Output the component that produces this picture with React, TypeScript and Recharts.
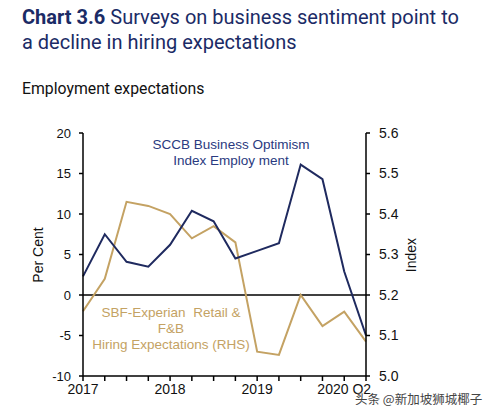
import React from 'react';
import { LineChart, Line, XAxis, YAxis, ReferenceLine } from 'recharts';

const quarters = ['2017Q1','2017Q2','2017Q3','2017Q4','2018Q1','2018Q2','2018Q3','2018Q4','2019Q1','2019Q2','2019Q3','2019Q4','2020Q1','2020Q2'];
const tickLabels = ['2017','','','','2018','','','','2019','','','','2020 Q2',''];
const sccb = [2.3, 7.5, 4.1, 3.5, 6.2, 10.4, 9.1, 4.5, 5.45, 6.4, 16.1, 14.3, 2.9, -5.0];
const sbf = [5.16, 5.24, 5.43, 5.42, 5.40, 5.34, 5.37, 5.33, 5.06, 5.052, 5.20, 5.123, 5.159, 5.085];
const leftTicks = [-10, -5, 0, 5, 10, 15, 20];
const rightTicks = [5.0, 5.1, 5.2, 5.3, 5.4, 5.5, 5.6];

const data = quarters.map((q, i) => ({ q, sccb: sccb[i], sbf: sbf[i] }));

const NAVY = '#1f2a5f';
const GOLD = '#c4a263';
const FONT = '"Liberation Sans", Arial, sans-serif';

export default function App() {
  return (
    <div style={{ position: 'absolute', left: 0, top: 0, width: 494, height: 416, background: '#fff', overflow: 'hidden' }}>
      <div style={{ position: 'absolute', left: 22, top: 5, fontFamily: 'Roboto, sans-serif', fontSize: 20, lineHeight: '25px', color: '#1b2b66', width: 472 }}>
        <span style={{ fontWeight: 700 }}>Chart 3.6</span> Surveys on business sentiment point to<br />a decline in hiring expectations
      </div>
      <div style={{ position: 'absolute', left: 22, top: 79, fontFamily: 'Roboto, sans-serif', fontSize: 15.8, color: '#111' }}>
        Employment expectations
      </div>
      <div style={{ position: 'absolute', left: 0, top: 0 }}>
        <LineChart width={494} height={416} data={data} margin={{ top: 133, right: 88, bottom: 10, left: 43 }} style={{ fontFamily: FONT }}>
          <XAxis
            dataKey="q"
            scale="point"
            padding={{ left: 0, right: 0 }}
            interval={0}
            height={30}
            tickSize={5}
            tickMargin={3}
            tickFormatter={(v: string, i: number) => tickLabels[i]}
            tick={{ fill: '#111', fontSize: 14 }}
            axisLine={{ stroke: '#000', strokeWidth: 1.5 }}
            tickLine={{ stroke: '#000', strokeWidth: 1.5 }}
          />
          <YAxis
            yAxisId="left"
            orientation="left"
            width={40}
            domain={[-10, 20]}
            ticks={leftTicks}
            interval={0}
            tickSize={4}
            tickMargin={8}
            tick={{ fill: '#111', fontSize: 13 }}
            axisLine={{ stroke: '#000', strokeWidth: 1.5 }}
            tickLine={{ stroke: '#000', strokeWidth: 1.5 }}
          />
          <YAxis
            yAxisId="right"
            orientation="right"
            width={40}
            domain={[5.0, 5.6]}
            ticks={rightTicks}
            interval={0}
            tickSize={4}
            tickMargin={9}
            tickFormatter={(v: number) => v.toFixed(1)}
            tick={{ fill: '#111', fontSize: 14 }}
            axisLine={{ stroke: '#000', strokeWidth: 1.5 }}
            tickLine={{ stroke: '#000', strokeWidth: 1.5 }}
          />
          <ReferenceLine yAxisId="left" y={0} stroke="#000" strokeWidth={1.5} />
          <Line yAxisId="right" dataKey="sbf" type="linear" stroke={GOLD} strokeWidth={2} dot={false} isAnimationActive={false} />
          <Line yAxisId="left" dataKey="sccb" type="linear" stroke={NAVY} strokeWidth={2} dot={false} isAnimationActive={false} />
        </LineChart>
      </div>
      <div style={{ position: 'absolute', left: 38, top: 255, transform: 'translate(-50%, -50%) rotate(-90deg)', fontFamily: FONT, fontSize: 14, color: '#111', whiteSpace: 'nowrap' }}>Per Cent</div>
      <div style={{ position: 'absolute', left: 411, top: 255, transform: 'translate(-50%, -50%) rotate(-90deg)', fontFamily: FONT, fontSize: 14, color: '#111', whiteSpace: 'nowrap' }}>Index</div>
      <div style={{ position: 'absolute', left: 231, top: 137, transform: 'translateX(-50%)', fontFamily: FONT, fontSize: 13.5, lineHeight: '16px', color: '#2a3a80', textAlign: 'center', whiteSpace: 'nowrap' }}>
        SCCB Business Optimism<br />Index Employ ment
      </div>
      <div style={{ position: 'absolute', left: 171, top: 305, transform: 'translateX(-50%)', fontFamily: FONT, fontSize: 13.5, lineHeight: '16px', color: GOLD, textAlign: 'center', whiteSpace: 'nowrap' }}>
        SBF-Experian&nbsp; Retail &amp;<br />F&amp;B<br />Hiring Expectations (RHS)
      </div>
      <div style={{ position: 'absolute', left: 355, top: 389, fontFamily: '"Noto Sans CJK SC", sans-serif', fontSize: 12.5, color: '#444', whiteSpace: 'nowrap', textShadow: '0 0 2px #fff, 0 0 2px #fff' }}>
        头条 @新加坡狮城椰子
      </div>
    </div>
  );
}
